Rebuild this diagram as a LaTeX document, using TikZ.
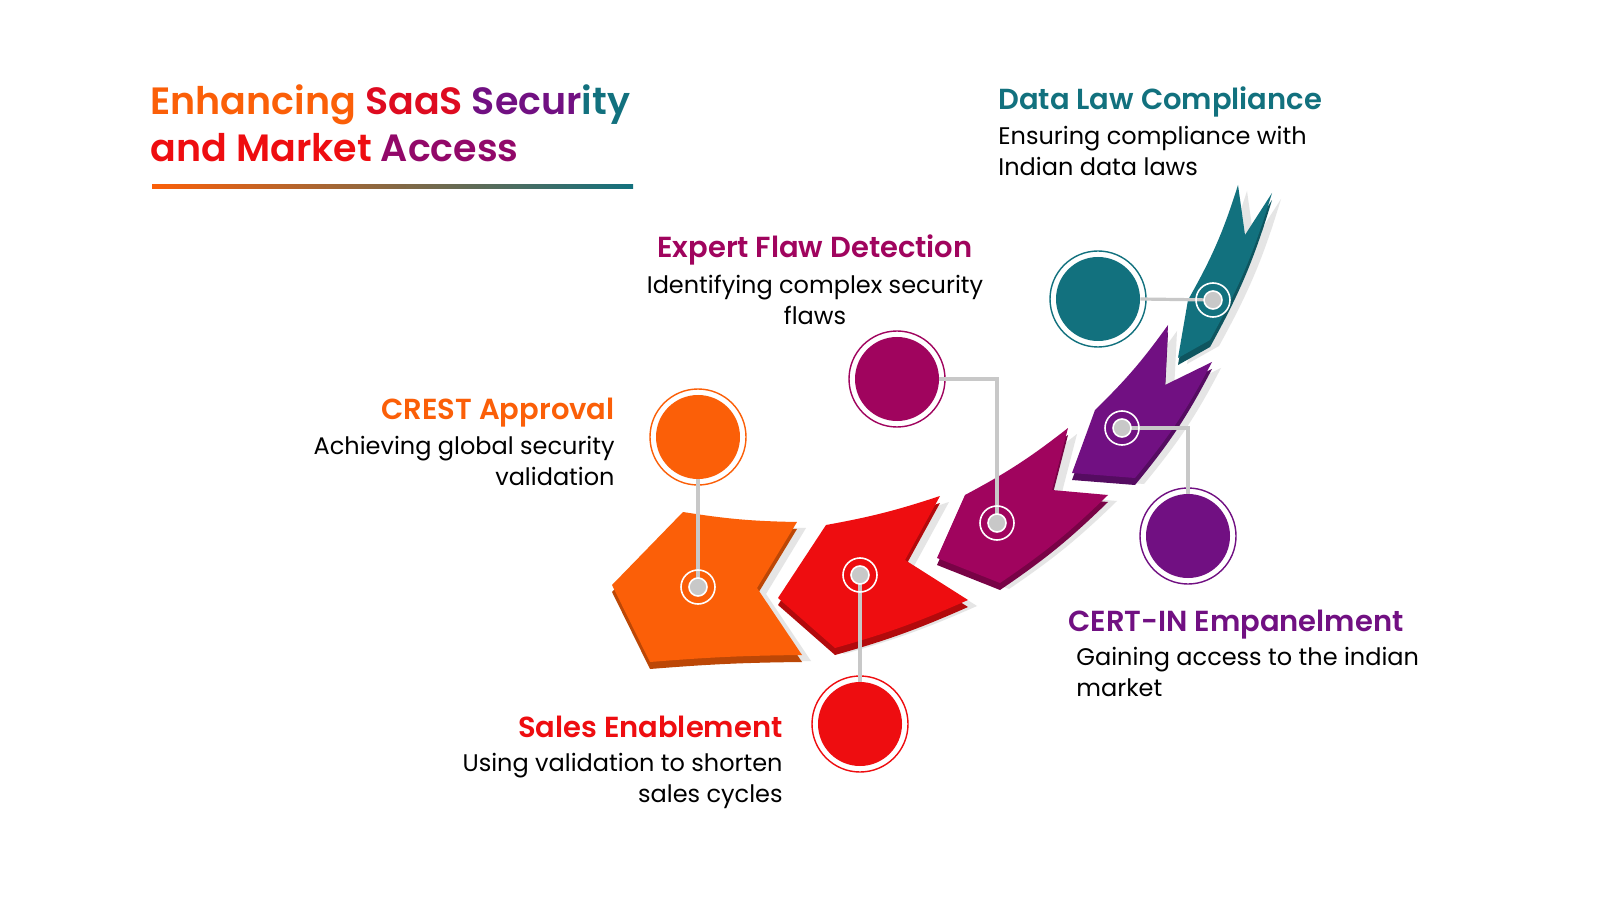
\documentclass[tikz,border=0pt]{standalone}
\usepackage{fontspec}
\setmainfont{Poppins}[BoldFont={* SemiBold}]
\begin{document}
\definecolor{cO}{HTML}{FB5F08}
\definecolor{cR}{HTML}{EE0D10}
\definecolor{cM}{HTML}{A0045E}
\definecolor{cP}{HTML}{711082}
\definecolor{cT}{HTML}{12717E}
\definecolor{gl}{HTML}{C8C8C8}
\begin{tikzpicture}[x=0.5pt,y=-0.5pt,
  head/.style={font=\fontsize{14.5}{17}\selectfont\bfseries,inner sep=0},
  body/.style={font=\fontsize{12}{15.5}\selectfont,inner sep=0},
  conn/.style={gl,line width=1.6pt},
  dot/.style={circle,fill=gl,draw=white,line width=0.8pt,minimum size=9pt,inner sep=0,
     append after command={\pgfextra{\draw[white,line width=0.8pt](\tikzlastnode.center) circle (8.5pt);}}},
  big/.style={circle,fill=#1,minimum size=42pt,inner sep=0,
     append after command={\pgfextra{\draw[#1,line width=0.7pt](\tikzlastnode.center) circle (24pt);}}}]
\useasboundingbox (0,0) rectangle (1600,914);
\fill[white] (0,0) rectangle (1600,914);
% title
\node[anchor=north west,align=left,inner sep=0,font=\fontsize{19}{23.5}\selectfont\bfseries] (title) at (150,84)
 {\textcolor{cO}{Enhancing} \textcolor{cR!80!cM}{SaaS} \textcolor{cP}{Secur}\textcolor{cT}{ity}\\
  \textcolor{cR}{and Market} \textcolor{cM!70!cP}{Access}};
\shade[left color=cO,middle color=cM!80!cP,right color=cT] (152,185) rectangle (633,189);
% segments
\def\seg#1#2{%
 \fill[black!10] [shift={(9,6)}] #2;
 \fill[#1!75!black] [shift={(0,7)}] #2;
 \fill[#1] #2;}
\seg{cO}{(612,585)--(683,512) to[bend right=4] (797,522)--(757,588)--(802,655) to[bend right=2] (650,662)--cycle}
\seg{cR}{(778,598)--(826,525) to[bend right=4] (940,496)--(905,560)--(968,600) to[bend left=4] (835,648)--cycle}
\seg{cM}{(937,558)--(965,495) to[bend right=5] (1068,428)--(1052,490)--(1108,495) to[bend left=5] (1000,583)--cycle}
\seg{cP}{(1072,473)--(1095,410) to[bend right=5] (1168,325)--(1165,385)--(1212,362) to[bend left=6] (1135,478)--cycle}
\seg{cT}{(1178,358)--(1188,300) to[bend right=6] (1238,185)--(1245,235)--(1272,193) to[bend left=6] (1210,340)--cycle}
% circles
\node[big=cO] (c1) at (698,437) {};
\node[big=cR] (c2) at (860,724) {};
\node[big=cM] (c3) at (897,379) {};
\node[big=cP] (c4) at (1188,536) {};
\node[big=cT] (c5) at (1098,299) {};
% connectors and dots
\coordinate (d1) at (698,587);
\coordinate (d2) at (860,575);
\coordinate (d3) at (997,523);
\coordinate (d4) at (1122,428);
\coordinate (d5) at (1213,300);
\draw[conn] (c1.south) -- (d1);
\draw[conn] (c2.north) -- (d2);
\draw[conn] (c3.east) -| (d3);
\draw[conn] (d4) -| (c4.north);
\draw[conn] (c5.east) -- (d5);
\foreach \d in {d1,d2,d3,d4,d5} \node[dot] at (\d) {};
% texts
\node[head,text=cO,anchor=base east] (h1) at (615,420) {CREST Approval};
\node[body,anchor=north east,align=right] (b1) at (615,436) {Achieving global security\\validation};
\node[head,text=cR,anchor=base east] (h2) at (783,737) {Sales Enablement};
\node[body,anchor=north east,align=right] (b2) at (783,753) {Using validation to shorten\\sales cycles};
\node[head,text=cM,anchor=base] (h3) at (815,258) {Expert Flaw Detection};
\node[body,anchor=north,align=center] (b3) at (815,275) {Identifying complex security\\flaws};
\node[head,text=cP,anchor=base west] (h4) at (1068,631) {CERT-IN Empanelment};
\node[body,anchor=north west,align=left] (b4) at (1076,647) {Gaining access to the indian\\market};
\node[head,text=cT,anchor=base west] (h5) at (998,110) {Data Law Compliance};
\node[body,anchor=north west,align=left] (b5) at (998,126) {Ensuring compliance with\\Indian data laws};
\end{tikzpicture}
\end{document}
